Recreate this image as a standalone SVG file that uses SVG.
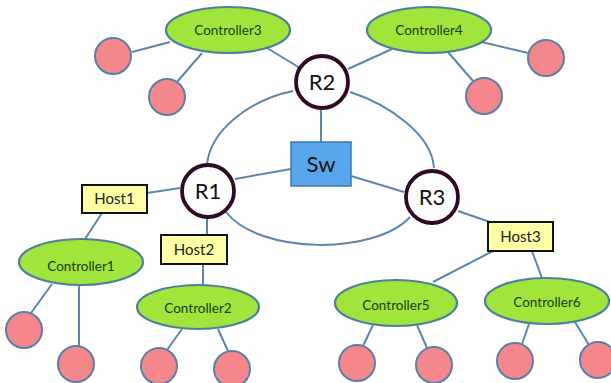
<svg xmlns="http://www.w3.org/2000/svg" width="611" height="383" viewBox="0 0 611 383">
<style>
.ln{stroke:#5b87ad;stroke-width:2;fill:none}
.ctl{fill:#9fe53c;stroke:#4f7f9e;stroke-width:2.2}
.pk{fill:#f4878b;stroke:#5b7fa6;stroke-width:2}
.rt{fill:#fff;stroke:#2e0a24;stroke-width:3.8}
.host{fill:#ffffa6;stroke:#111;stroke-width:2}
.sw{fill:#5aa6ec;stroke:#3f78b0;stroke-width:1.5}
.ct{font-family:Lato,"Liberation Sans",sans-serif;font-size:13.5px;fill:#1d3b1d;text-anchor:middle}
.ht{font-family:Lato,"Liberation Sans",sans-serif;font-size:15px;fill:#222;text-anchor:middle}
.rl{font-family:Lato,"Liberation Sans",sans-serif;font-size:22px;fill:#111;text-anchor:middle}
</style>
<rect width="611" height="383" fill="#fff"/>
<g id="connectors">
<path class="ln" d="M293,91 C250,100 210,130 207,165"/>
<path class="ln" d="M350,92 C390,105 432,135 434,168"/>
<path class="ln" d="M226,212 C260,255 375,255 410,217"/>
<line class="ln" x1="170" y1="42" x2="132" y2="52"/>
<line class="ln" x1="202" y1="53" x2="177" y2="82"/>
<line class="ln" x1="267" y1="48" x2="300" y2="68"/>
<line class="ln" x1="348" y1="69" x2="392" y2="49"/>
<line class="ln" x1="482" y1="42" x2="528" y2="53"/>
<line class="ln" x1="448" y1="52" x2="473" y2="81"/>
<line class="ln" x1="321" y1="110" x2="321" y2="142"/>
<line class="ln" x1="235" y1="179" x2="291" y2="169"/>
<line class="ln" x1="351" y1="176" x2="404" y2="192"/>
<line class="ln" x1="147" y1="193" x2="180" y2="188"/>
<line class="ln" x1="207" y1="218" x2="207" y2="235"/>
<line class="ln" x1="102" y1="213" x2="85" y2="239"/>
<line class="ln" x1="458" y1="211" x2="490" y2="222"/>
<line class="ln" x1="52" y1="284" x2="31" y2="313"/>
<line class="ln" x1="79" y1="286" x2="79" y2="346"/>
<line class="ln" x1="203" y1="264" x2="203" y2="286"/>
<line class="ln" x1="182" y1="329" x2="167" y2="350"/>
<line class="ln" x1="218" y1="329" x2="228" y2="351"/>
<line class="ln" x1="493" y1="251" x2="433" y2="282"/>
<line class="ln" x1="532" y1="251" x2="542" y2="278"/>
<line class="ln" x1="373" y1="325" x2="363" y2="346"/>
<line class="ln" x1="417" y1="325" x2="427" y2="348"/>
<line class="ln" x1="529" y1="324" x2="522" y2="344"/>
<line class="ln" x1="575" y1="322" x2="589" y2="345"/>
</g>
<g id="controller3"><ellipse class="ctl" cx="228" cy="30" rx="62" ry="23"/><text class="ct" x="228" y="35">Controller3</text></g>
<g id="controller4"><ellipse class="ctl" cx="429" cy="30" rx="62" ry="23"/><text class="ct" x="429" y="35">Controller4</text></g>
<g id="controller1"><ellipse class="ctl" cx="81" cy="262" rx="62" ry="23"/><text class="ct" x="81" y="271">Controller1</text></g>
<g id="controller2"><ellipse class="ctl" cx="198" cy="307" rx="61" ry="22"/><text class="ct" x="198" y="313">Controller2</text></g>
<g id="controller5"><ellipse class="ctl" cx="396" cy="303" rx="61" ry="23"/><text class="ct" x="396" y="310">Controller5</text></g>
<g id="controller6"><ellipse class="ctl" cx="547" cy="301" rx="62" ry="23"/><text class="ct" x="547" y="307">Controller6</text></g>
<g id="hosts-c3"><circle class="pk" cx="113" cy="56" r="18"/><circle class="pk" cx="167" cy="97" r="18"/></g>
<g id="hosts-c4"><circle class="pk" cx="546" cy="58" r="18"/><circle class="pk" cx="484" cy="96" r="18"/></g>
<g id="hosts-c1"><circle class="pk" cx="24" cy="330" r="18"/><circle class="pk" cx="76" cy="364" r="18"/></g>
<g id="hosts-c2"><circle class="pk" cx="159" cy="366" r="18"/><circle class="pk" cx="232" cy="369" r="18"/></g>
<g id="hosts-c5"><circle class="pk" cx="357" cy="363" r="18"/><circle class="pk" cx="434" cy="365" r="18"/></g>
<g id="hosts-c6"><circle class="pk" cx="515" cy="361" r="18"/><circle class="pk" cx="598" cy="360" r="18"/></g>
<g id="sw"><rect class="sw" x="291" y="142" width="60" height="44"/><text class="rl" x="321" y="172">Sw</text></g>
<g id="r1"><circle class="rt" cx="208" cy="191" r="26"/><text class="rl" x="208" y="199">R1</text></g>
<g id="r2"><circle class="rt" cx="322" cy="82" r="26"/><text class="rl" x="322" y="90">R2</text></g>
<g id="r3"><circle class="rt" cx="432" cy="197" r="26"/><text class="rl" x="432" y="205">R3</text></g>
<g id="host1"><rect class="host" x="82" y="185" width="65" height="28"/><text class="ht" x="114.5" y="204">Host1</text></g>
<g id="host2"><rect class="host" x="161" y="235" width="66" height="29"/><text class="ht" x="194" y="255">Host2</text></g>
<g id="host3"><rect class="host" x="488" y="222" width="65" height="29"/><text class="ht" x="520.5" y="242">Host3</text></g>
</svg>
